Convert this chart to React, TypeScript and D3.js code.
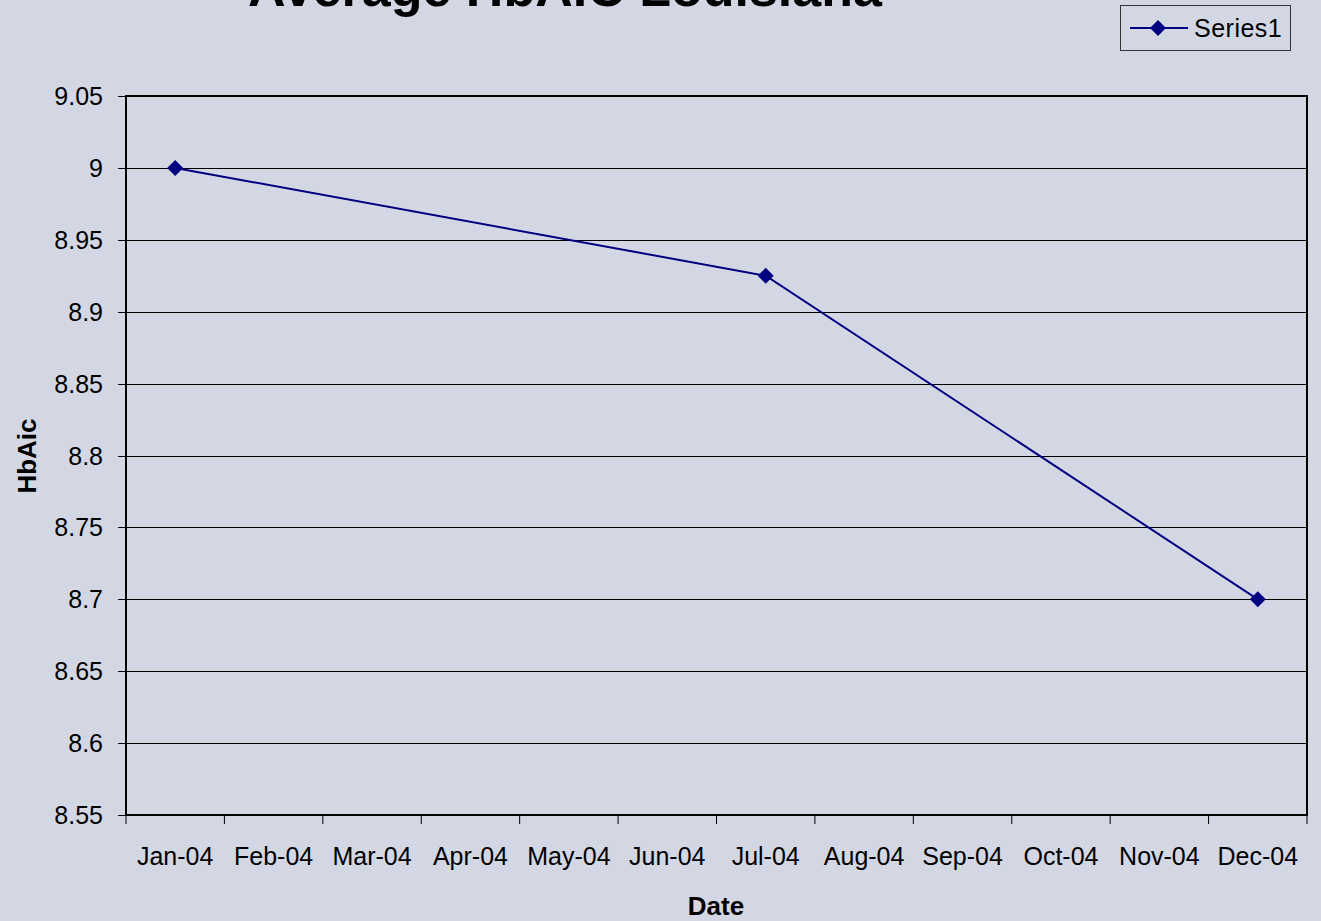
import React from "react";
import * as d3 from "d3";

const months = ["Jan-04","Feb-04","Mar-04","Apr-04","May-04","Jun-04","Jul-04","Aug-04","Sep-04","Oct-04","Nov-04","Dec-04"];
const seriesMonths = ["Jan-04", "Jul-04", "Dec-04"];
const seriesValues = [9.0, 8.925, 8.7];
const yTicks = [8.55, 8.6, 8.65, 8.7, 8.75, 8.8, 8.85, 8.9, 8.95, 9, 9.05];
const yTickLabels = ["8.55","8.6","8.65","8.7","8.75","8.8","8.85","8.9","8.95","9","9.05"];
const seriesName = "Series1";
const title = "Average HbAIC Louisiana";

const W = 1321, H = 921;
const left = 126, right = 1307, top = 96, bottom = 815;
const FONT = "Arial, 'Liberation Sans', sans-serif";
const NAVY = "#000080";

export default function App() {
  const x = d3.scaleBand<string>().domain(months).range([left, right]).padding(0);
  const y = d3.scaleLinear().domain([8.55, 9.05]).range([bottom, top]);
  const pts = seriesMonths.map((m, i) => [x(m)! + x.bandwidth() / 2, y(seriesValues[i])] as [number, number]);
  const line = d3.line()(pts) || "";
  const diamond = (cx: number, cy: number, r: number) => `M${cx},${cy - r}L${cx + r},${cy}L${cx},${cy + r}L${cx - r},${cy}Z`;
  const boundaries = months.map((m) => x(m)!).concat([right]);

  return (
    <svg width={W} height={H} style={{ position: "fixed", left: 0, top: 0, display: "block" }} fontFamily={FONT}>
      <rect x={0} y={0} width={W} height={H} fill="#D3D7E4" />
      <text x={565} y={6} textAnchor="middle" fontSize={52} fontWeight="bold" fill="#000">{title}</text>

      {/* grid lines */}
      {yTicks.map((t, i) => (
        <line key={"g" + i} x1={left - 8} x2={right} y1={Math.round(y(t)) + 0.5} y2={Math.round(y(t)) + 0.5} stroke="#000" strokeWidth={1} />
      ))}
      {/* y labels */}
      {yTicks.map((t, i) => (
        <text key={"yl" + i} x={103} y={y(t)} dy="0.36em" textAnchor="end" fontSize={25} fill="#000">{yTickLabels[i]}</text>
      ))}
      {/* x ticks */}
      {boundaries.map((bx, i) => (
        <line key={"xt" + i} x1={bx} x2={bx} y1={bottom} y2={bottom + 9} stroke="#000" strokeWidth={1} />
      ))}
      {months.map((m) => (
        <text key={m} x={x(m)! + x.bandwidth() / 2} y={865} textAnchor="middle" fontSize={25} fill="#000">{m}</text>
      ))}
      {/* frame */}
      <rect x={left} y={top} width={right - left} height={bottom - top} fill="none" stroke="#000" strokeWidth={2} />

      {/* series */}
      <path d={line} fill="none" stroke={NAVY} strokeWidth={2} />
      {pts.map((p, i) => (
        <path key={"p" + i} d={diamond(p[0], p[1], 8)} fill={NAVY} />
      ))}

      {/* axis titles */}
      <text x={716} y={915} textAnchor="middle" fontSize={26} fontWeight="bold" fill="#000">Date</text>
      <text transform={`translate(36,456) rotate(-90)`} textAnchor="middle" fontSize={26} fontWeight="bold" fill="#000">HbAic</text>

      {/* legend */}
      <rect x={1120.5} y={5.5} width={170} height={45} fill="#D3D7E4" stroke="#333" strokeWidth={1} />
      <line x1={1130} x2={1188} y1={28} y2={28} stroke={NAVY} strokeWidth={2} />
      <path d={diamond(1158, 28, 8)} fill={NAVY} />
      <text x={1194} y={37} fontSize={25} fill="#000" letterSpacing={0.5}>{seriesName}</text>
    </svg>
  );
}
